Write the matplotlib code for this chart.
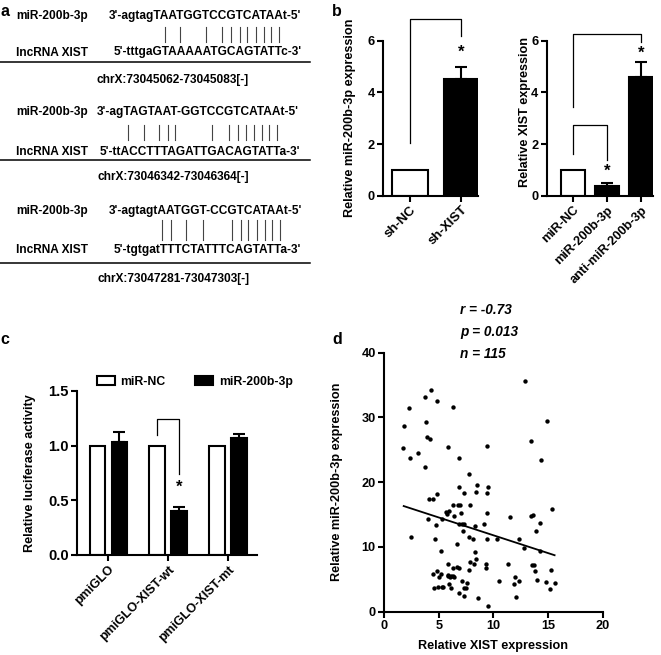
import numpy as np
import matplotlib
matplotlib.use('Agg')
import matplotlib.pyplot as plt
from matplotlib.font_manager import FontProperties
from matplotlib.patches import Patch

# ---- panel a: predicted binding sites ----
mir_label = 'miR-200b-3p'
xist_label = 'lncRNA XIST'
mir_seqs = ["3'-agtagTAATGGTCCGTCATAAt-5'",
            "3'-agTAGTAAT-GGTCCGTCATAAt-5'",
            "3'-agtagtAATGGT-CCGTCATAAt-5'"]
xist_seqs = ["5'-tttgaGTAAAAATGCAGTATTc-3'",
             "5'-ttACCTTTAGATTGACAGTATTa-3'",
             "5'-tgtgatTTTCTATTTCAGTATTa-3'"]
# index of the paired base in each miR string
pair_pos = [[9, 11, 14, 16, 17, 18, 19, 20, 21, 22, 23],
            [5, 7, 9, 10, 11, 16, 18, 19, 20, 21, 22, 23, 24],
            [9, 10, 12, 14, 18, 19, 20, 21, 22, 23, 24]]
sites = ['chrX:73045062-73045083[-]',
         'chrX:73046342-73046364[-]',
         'chrX:73047281-73047303[-]']

# ---- panel b: qRT-PCR ----
kd_groups = ['sh-NC', 'sh-XIST']
kd_mean = [1.0, 4.53]
kd_err = [0.0, 0.45]
mim_groups = ['miR-NC', 'miR-200b-3p', 'anti-miR-200b-3p']
mim_mean = [1.0, 0.39, 4.59]
mim_err = [0.0, 0.11, 0.57]

# ---- panel c: luciferase ----
luc_groups = ['pmiGLO', 'pmiGLO-XIST-wt', 'pmiGLO-XIST-mt']
luc_nc = [1.0, 1.0, 1.0]
luc_mir = [1.036, 0.40, 1.067]
luc_mir_err = [0.085, 0.04, 0.04]

# ---- panel d: correlation in tissues ----
xist_expr = [12.9, 2.29, 1.86, 3.78, 4.30, 4.88, 6.28, 3.87, 14.9, 3.90,
             4.18, 1.77, 2.38, 3.08, 5.88, 9.39, 13.4, 3.78, 6.89, 14.4,
             7.80, 6.89, 8.51, 9.51, 7.29, 8.38, 4.88, 4.09, 4.51, 6.28,
             6.80, 6.95, 7.90, 15.4, 5.67, 5.91, 5.79, 7.01, 6.40, 9.39,
             11.5, 13.4, 13.6, 3.99, 5.30, 14.3, 4.73, 6.89, 7.13, 7.32,
             8.29, 9.18, 7.20, 13.9, 2.47, 4.70, 7.80, 8.11, 9.42, 10.3,
             12.3, 6.71, 12.8, 14.3, 5.18, 8.29, 8.38, 7.87, 5.88, 8.26,
             9.30, 11.3, 13.5, 13.7, 6.71, 6.89, 9.30, 15.3, 6.28, 4.82,
             7.80, 13.8, 4.51, 5.21, 5.88, 6.10, 6.28, 5.82, 6.40, 5.00,
             6.00, 12.0, 10.5, 7.13, 12.3, 14.0, 14.8, 15.6, 7.56, 11.9,
             5.91, 4.60, 4.91, 5.27, 5.43, 6.10, 7.35, 7.47, 15.2, 6.89,
             7.32, 12.1, 8.60, 9.51, 9.42]
mir_expr = [35.6, 31.4, 28.6, 33.2, 34.3, 32.5, 31.6, 29.3, 29.4, 26.9,
            26.6, 25.3, 23.8, 24.5, 25.5, 25.6, 26.4, 22.3, 23.7, 23.4,
            21.3, 19.3, 19.5, 19.3, 18.4, 18.5, 18.2, 17.4, 17.4, 16.4,
            16.4, 16.4, 16.4, 15.9, 15.4, 15.6, 15.1, 15.3, 14.7, 15.3,
            14.6, 14.7, 14.9, 14.3, 14.3, 13.7, 13.4, 13.5, 13.5, 13.5,
            13.3, 13.6, 12.5, 12.4, 11.6, 11.2, 11.5, 11.2, 11.2, 11.2,
            11.3, 10.4, 9.9, 9.3, 9.4, 9.2, 8.1, 7.7, 7.4, 7.3,
            7.4, 7.3, 7.2, 7.2, 6.9, 6.8, 6.8, 6.5, 6.8, 6.3,
            6.4, 6.3, 5.8, 5.8, 5.7, 5.5, 5.5, 5.5, 5.4, 5.3,
            5.3, 5.3, 4.8, 4.7, 4.8, 4.9, 4.6, 4.5, 4.5, 4.3,
            4.3, 3.7, 3.8, 3.8, 3.8, 3.6, 3.7, 3.6, 3.5, 2.9,
            2.5, 2.3, 2.1, 0.9, 18.3]
fit_slope, fit_icpt = -0.55, 17.3
fit_range = [1.8, 15.6]
stats = ['r = -0.73', 'p = 0.013', 'n = 115']

W, H = 661, 655
plt.rcParams['font.family'] = ['Liberation Sans', 'DejaVu Sans']
plt.rcParams['font.weight'] = 'bold'
plt.rcParams['axes.labelweight'] = 'bold'
LAB = 9.1   # axis label size
TCK = 9.2   # tick label size

fig = plt.figure(figsize=(W / 100, H / 100), dpi=100)


def px_axes(left, top, right, bottom):
    ax = fig.add_axes([left / W, 1 - bottom / H, (right - left) / W, (bottom - top) / H])
    ax.patch.set_visible(False)
    return ax


def style(ax):
    for s in ['top', 'right']:
        ax.spines[s].set_visible(False)
    for s in ['left', 'bottom']:
        ax.spines[s].set_linewidth(1.5)
    ax.tick_params(width=1.5, length=4, labelsize=TCK, pad=2)


def ylabel_px(ax, text, cx, box):
    ax.set_ylabel(text, fontsize=LAB)
    left, right = box
    ax.yaxis.set_label_coords((cx + 6 - left) / (right - left), 0.5)


# overlay axes in pixel coords for panel a and panel letters
ov = fig.add_axes([0, 0, 1, 1], zorder=10)
ov.set_xlim(0, W)
ov.set_ylim(H, 0)
ov.axis('off')

for lab, (lx, ly) in zip('abcd', [(5, 11), (337, 11), (5, 340), (337, 340)]):
    ov.text(lx, ly, lab, fontsize=11.5, fontweight='bold', ha='center', va='center')

SEQ = 8.6
fp = FontProperties(family='Liberation Sans', weight='bold', size=SEQ)
renderer = fig.canvas.get_renderer()


def text_w(s):
    if not s:
        return 0.0
    return renderer.get_text_width_height_descent(s, fp, ismath=False)[0]


mir_y = [15.5, 112, 211]
bar_y = [(27, 42), (125, 140), (220, 240)]
xist_y = [52.5, 152, 250]
line_y = [62.3, 160, 263]
site_y = [80.5, 177, 279]
mir_x0 = [108.3, 96.7, 108.3]
xist_x0 = [113.3, 100, 113.3]

for k in range(3):
    ov.text(16.5, mir_y[k], mir_label, fontproperties=fp, ha='left', va='center')
    ov.text(16.5, xist_y[k], xist_label, fontproperties=fp, ha='left', va='center')
    ov.text(mir_x0[k], mir_y[k], mir_seqs[k], fontproperties=fp, ha='left', va='center')
    ov.text(xist_x0[k], xist_y[k], xist_seqs[k], fontproperties=fp, ha='left', va='center')
    s = mir_seqs[k]
    for i in pair_pos[k]:
        xc = mir_x0[k] + (text_w(s[:i]) + text_w(s[:i + 1])) / 2
        ov.plot([xc, xc], bar_y[k], color='#444444', lw=0.8)
    ov.plot([0, 310], [line_y[k], line_y[k]], color='black', lw=1.1)
    ov.text(173, site_y[k], sites[k], fontproperties=fp, ha='center', va='center')

# ---- panel b left ----
box = (383, 478)
ax1 = px_axes(383, 40.7, 478, 195.7)
style(ax1)
x = np.arange(len(kd_groups))
ax1.bar(x, kd_mean, width=0.69, color=['white', 'black'], edgecolor='black', linewidth=1.5)
ax1.errorbar(x[1:], kd_mean[1:], yerr=[[0], kd_err[1:]], fmt='none', ecolor='black',
             elinewidth=1.5, capsize=4.3, capthick=1.5)
ax1.set_xlim(-0.52, 1.32)
ax1.set_ylim(0, 6)
ax1.set_yticks([0, 2, 4, 6])
ax1.set_xticks(x)
ax1.set_xticklabels(kd_groups, rotation=45, ha='right', rotation_mode='anchor', fontsize=9.6)
ax1.plot([0, 0, 1, 1], [2.05, 6.85, 6.85, 6.2], color='black', lw=0.9, clip_on=False)
ax1.text(1, 5.55, '*', ha='center', va='center', fontsize=12)
ylabel_px(ax1, 'Relative miR-200b-3p expression', 350, box)

# ---- panel b right ----
box = (546.7, 653)
ax2 = px_axes(546.7, 40.7, 653, 195.7)
style(ax2)
x = np.arange(len(mim_groups))
ax2.bar(x, mim_mean, width=0.69, color=['white', 'black', 'black'], edgecolor='black', linewidth=1.5)
ax2.errorbar(x[1:], mim_mean[1:], yerr=[[0, 0], mim_err[1:]], fmt='none', ecolor='black',
             elinewidth=1.5, capsize=4.3, capthick=1.5)
ax2.set_xlim(-0.78, 2.35)
ax2.set_ylim(0, 6)
ax2.set_yticks([0, 2, 4, 6])
ax2.set_xticks(x)
ax2.set_xticklabels(mim_groups, rotation=45, ha='right', rotation_mode='anchor', fontsize=TCK)
ax2.plot([0, 0, 2, 2], [3.43, 6.27, 6.27, 5.95], color='black', lw=0.9, clip_on=False)
ax2.plot([0, 0, 1, 1], [1.6, 2.74, 2.74, 1.38], color='black', lw=0.9, clip_on=False)
ax2.text(2, 5.5, '*', ha='center', va='center', fontsize=12)
ax2.text(1, 0.95, '*', ha='center', va='center', fontsize=12)
ylabel_px(ax2, 'Relative XIST expression', 525, box)
ax2.yaxis.set_label_coords((525 + 6 - 546.7) / (653 - 546.7), 0.54)

# ---- panel c ----
box = (77.3, 257.3)
ax3 = px_axes(77.3, 391, 257.3, 555)
style(ax3)
x = np.arange(len(luc_groups))
off, bw = 0.185, 0.26
ax3.bar(x - off, luc_nc, width=bw, color='white', edgecolor='black', linewidth=1.5)
ax3.bar(x + off, luc_mir, width=bw, color='black', edgecolor='black', linewidth=1.5)
ax3.errorbar(x + off, luc_mir, yerr=[[0] * 3, luc_mir_err], fmt='none', ecolor='black',
             elinewidth=1.5, capsize=4.3, capthick=1.5)
ax3.set_xlim(-0.52, 2.49)
ax3.set_ylim(0, 1.5)
ax3.set_yticks([0, 0.5, 1.0, 1.5])
ax3.set_yticklabels(['0.0', '0.5', '1.0', '1.5'])
ax3.tick_params(axis='y', labelsize=10.6)
ax3.set_xticks(x)
ax3.set_xticklabels(luc_groups, rotation=45, ha='right', rotation_mode='anchor', fontsize=TCK)
ax3.plot([1 - off, 1 - off, 1 + off, 1 + off], [1.1, 1.24, 1.24, 0.74], color='black', lw=0.9)
ax3.text(1 + off, 0.62, '*', ha='center', va='center', fontsize=12)
ylabel_px(ax3, 'Relative luciferase activity', 30, box)
handles = [Patch(facecolor='white', edgecolor='black', linewidth=1.5, label='miR-NC'),
           Patch(facecolor='black', edgecolor='black', linewidth=1.5, label='miR-200b-3p')]
fig.legend(handles=handles, loc='center left', bbox_to_anchor=(96.7 / W, 1 - 382 / H),
           ncol=2, frameon=False, fontsize=8.8, handlelength=1.5, handleheight=0.75,
           handletextpad=0.45, columnspacing=2.4, borderpad=0, borderaxespad=0)

# ---- panel d ----
box = (384, 602.7)
ax4 = px_axes(384, 352.6, 602.7, 611.7)
style(ax4)
ax4.scatter(xist_expr, mir_expr, s=10, color='black', linewidths=0)
fx = np.array(fit_range)
ax4.plot(fx, fit_icpt + fit_slope * fx, color='black', lw=1.3)
ax4.set_xlim(0, 20)
ax4.set_ylim(0, 40)
ax4.set_xticks([0, 5, 10, 15, 20])
ax4.set_yticks([0, 10, 20, 30, 40])
ax4.set_xlabel('Relative XIST expression', fontsize=LAB)
ax4.xaxis.set_label_coords(0.5, -(640.5 - 611.7) / 259.1)
ylabel_px(ax4, 'Relative miR-200b-3p expression', 337, box)
for txt, ty in zip(stats, [310, 332, 354]):
    ov.text(460, ty, txt, fontsize=9.8, fontweight='bold', fontstyle='italic', ha='left', va='center')

fig.savefig('out.png', dpi=100)
